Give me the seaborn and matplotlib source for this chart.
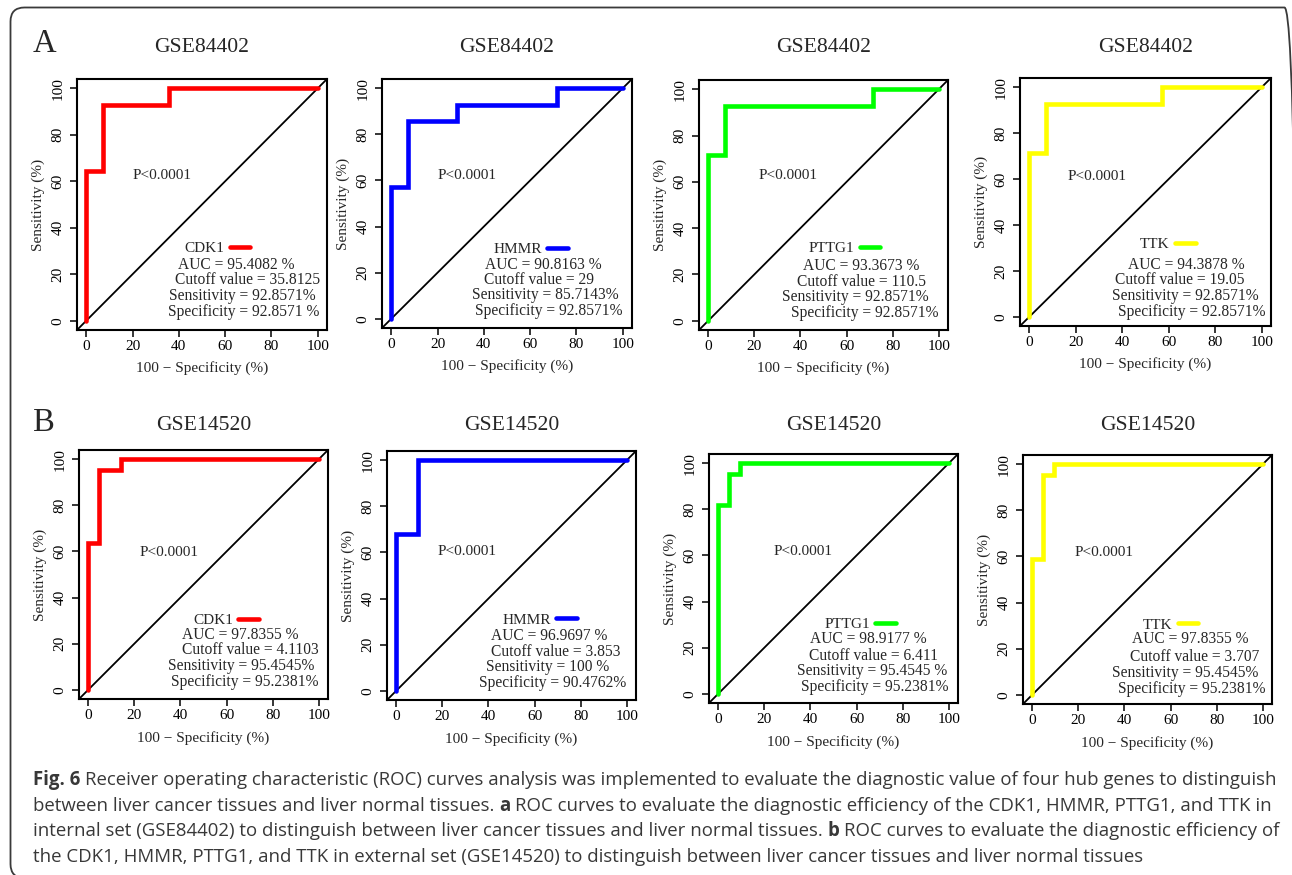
import matplotlib
matplotlib.use("Agg")
import matplotlib.pyplot as plt
from matplotlib.patches import FancyBboxPatch
from matplotlib.transforms import IdentityTransform
import seaborn as sns
import pandas as pd

# ------------------------------------------------------------------ data
genes = ["CDK1", "HMMR", "PTTG1", "TTK"]
gene_colors = ["#FF0000", "#0000FF", "#00FF00", "#FFFF00"]
datasets = ["GSE84402", "GSE14520"]
panel_letters = ["A", "B"]
p_text = "P<0.0001"

# ROC curves: x = 100 - specificity (%), y = sensitivity (%)
fpr_gse84402 = {
    "CDK1":  [0, 0, 7.14, 7.14, 35.71, 35.71, 100],
    "HMMR":  [0, 0, 7.14, 7.14, 28.57, 28.57, 71.43, 71.43, 100],
    "PTTG1": [0, 0, 7.14, 7.14, 71.43, 71.43, 100],
    "TTK":   [0, 0, 7.14, 7.14, 57.14, 57.14, 100],
}
tpr_gse84402 = {
    "CDK1":  [0, 64.29, 64.29, 92.86, 92.86, 100, 100],
    "HMMR":  [0, 57.14, 57.14, 85.71, 85.71, 92.86, 92.86, 100, 100],
    "PTTG1": [0, 71.43, 71.43, 92.86, 92.86, 100, 100],
    "TTK":   [0, 71.43, 71.43, 92.86, 92.86, 100, 100],
}
fpr_gse14520 = {
    "CDK1":  [0, 0, 4.76, 4.76, 14.29, 14.29, 100],
    "HMMR":  [0, 0, 9.52, 9.52, 100],
    "PTTG1": [0, 0, 4.76, 4.76, 9.52, 9.52, 100],
    "TTK":   [0, 0, 4.76, 4.76, 9.52, 9.52, 100],
}
tpr_gse14520 = {
    "CDK1":  [0, 63.64, 63.64, 95.45, 95.45, 100, 100],
    "HMMR":  [0, 68.18, 68.18, 100, 100],
    "PTTG1": [0, 81.82, 81.82, 95.45, 95.45, 100, 100],
    "TTK":   [0, 59.09, 59.09, 95.45, 95.45, 100, 100],
}

auc_gse84402 = ["95.4082 %", "90.8163 %", "93.3673 %", "94.3878 %"]
cutoff_gse84402 = ["35.8125", "29", "110.5", "19.05"]
sens_gse84402 = ["92.8571%", "85.7143%", "92.8571%", "92.8571%"]
spec_gse84402 = ["92.8571 %", "92.8571%", "92.8571%", "92.8571%"]

auc_gse14520 = ["97.8355 %", "96.9697 %", "98.9177 %", "97.8355 %"]
cutoff_gse14520 = ["4.1103", "3.853", "6.411", "3.707"]
sens_gse14520 = ["95.4545%", "100 %", "95.4545 %", "95.4545%"]
spec_gse14520 = ["95.2381%", "90.4762%", "95.2381%", "95.2381%"]

ticks = [0, 20, 40, 60, 80, 100]
xlabel = "100 \u2212 Specificity (%)"
ylabel = "Sensitivity (%)"

caption_lines = [
    [("Fig. 6", True),
     (" Receiver operating characteristic (ROC) curves analysis was implemented to evaluate the diagnostic value of four hub genes to distinguish", False)],
    [("between liver cancer tissues and liver normal tissues. ", False), ("a", True),
     (" ROC curves to evaluate the diagnostic efficiency of the CDK1, HMMR, PTTG1, and TTK in", False)],
    [("internal set (GSE84402) to distinguish between liver cancer tissues and liver normal tissues. ", False),
     ("b", True), (" ROC curves to evaluate the diagnostic efficiency of", False)],
    [("the CDK1, HMMR, PTTG1, and TTK in external set (GSE14520) to distinguish between liver cancer tissues and liver normal tissues", False)],
]

fpr_all = [fpr_gse84402, fpr_gse14520]
tpr_all = [tpr_gse84402, tpr_gse14520]
auc_all = [auc_gse84402, auc_gse14520]
cut_all = [cutoff_gse84402, cutoff_gse14520]
sens_all = [sens_gse84402, sens_gse14520]
spec_all = [spec_gse84402, spec_gse14520]

# ------------------------------------------------------------------ layout (pixels)
W, H = 1292, 875
axes_px = [  # left, top, right, bottom
    [(77, 79, 327, 330), (382, 79, 632, 328), (699, 80, 948, 330), (1020, 78, 1271, 326)],
    [(79, 450, 328, 699), (387, 451, 636, 700), (709, 454, 958, 703), (1023, 455, 1272, 704)],
]
title_baseline = [52, 430]
letter_baseline = [52, 431]
xlabel_offset = [38, 39]
ylabel_offset = 39

p_pos = [[(32.6, 62.4), (32.6, 62.1), (34.8, 62.7), (29.0, 61.1)],
         [(34.9, 59.7), (30.6, 60.5), (36.6, 61.7), (31.3, 61.8)]]
legend_pos = [[(42.4, 31.2), (44.2, 30.2), (43.6, 31.3), (47.7, 31.6)],
              [(45.5, 30.1), (46.1, 30.7), (46.0, 30.2), (48.0, 30.3)]]
stats_x = [[[64.6, 69.5, 67.4, 68.1], [65.8, 63.9, 66.4, 68.0], [66.3, 66.3, 63.9, 67.9], [67.4, 64.7, 67.3, 70.0]],
           [[66.0, 70.4, 66.2, 67.7], [66.4, 69.1, 65.8, 68.0], [64.9, 67.5, 66.8, 68.0], [68.5, 70.3, 66.3, 69.0]]]
stats_y = [[[24.0, 17.5, 10.8, 3.9], [23.4, 16.9, 10.2, 3.2], [23.8, 16.9, 10.4, 3.2], [22.6, 16.1, 9.2, 2.3]],
           [[23.6, 17.1, 10.2, 3.2], [23.8, 17.0, 10.2, 3.2], [23.7, 16.6, 9.7, 2.8], [24.0, 16.5, 9.6, 2.7]]]

# ------------------------------------------------------------------ style
sns.set_style("ticks")
plt.rcParams["font.family"] = ["Liberation Serif", "DejaVu Serif"]
plt.rcParams["axes.linewidth"] = 1.5
plt.rcParams["axes.edgecolor"] = "black"

fig = plt.figure(figsize=(W / 100, H / 100), dpi=100)
fig.patch.set_facecolor("white")

for r, ds in enumerate(datasets):
    for c, gene in enumerate(genes):
        l, t, rg, b = axes_px[r][c]
        ax = fig.add_axes([l / W, 1 - b / H, (rg - l) / W, (b - t) / H])
        ax.set_facecolor("white")
        ax.axline((0, 0), slope=1, color="black", lw=1.3, zorder=1)
        df = pd.DataFrame({"fpr": fpr_all[r][gene], "tpr": tpr_all[r][gene]})
        sns.lineplot(data=df, x="fpr", y="tpr", sort=False, estimator=None,
                     color=gene_colors[c], lw=3.3, ax=ax, label=gene, zorder=2,
                     solid_capstyle="round", solid_joinstyle="miter")
        ax.set_xlim(-4, 104)
        ax.set_ylim(-4, 104)
        ax.set_xticks(ticks)
        ax.set_yticks(ticks)
        for s in ax.spines.values():
            s.set_visible(True)
            s.set_linewidth(1.5)
            s.set_color("black")
        ax.tick_params(axis="both", direction="out", length=5, width=1.1,
                       labelsize=11, colors="black")
        ax.tick_params(axis="x", pad=2.5)
        ax.tick_params(axis="y", pad=4, labelrotation=90)
        for lab in ax.get_yticklabels():
            lab.set_va("center")
        hpx = b - t
        wpx = rg - l
        ax.set_xlabel(xlabel, fontsize=11)
        ax.xaxis.set_label_coords(0.5, -xlabel_offset[r] / hpx)
        ax.xaxis.label.set_va("center")
        ax.set_ylabel(ylabel, fontsize=11)
        ax.yaxis.set_label_coords(-ylabel_offset / wpx, 0.5)
        ax.yaxis.label.set_va("center")

        # title
        fig.text((l + rg) / 2 / W, 1 - title_baseline[r] / H, ds,
                 ha="center", va="baseline", fontsize=15.6)
        # P value
        px, py = p_pos[r][c]
        ax.text(px, py, p_text, ha="center", va="center", fontsize=11)
        # legend (text then line, as in R)
        lx, ly = legend_pos[r][c]
        ax.legend(loc="center left", bbox_to_anchor=(lx, ly), bbox_transform=ax.transData,
                  frameon=False, markerfirst=False, handlelength=1.35, handletextpad=0.35,
                  borderpad=0, borderaxespad=0, fontsize=11)
        stat_lines = ["AUC = " + auc_all[r][c],
                      "Cutoff value = " + cut_all[r][c],
                      "Sensitivity = " + sens_all[r][c],
                      "Specificity = " + spec_all[r][c]]
        for k, txt in enumerate(stat_lines):
            ax.text(stats_x[r][c][k], stats_y[r][c][k], txt, ha="center", va="center",
                    fontsize=11.2)

    fig.text(33 / W, 1 - letter_baseline[r] / H, panel_letters[r], ha="left",
             va="baseline", fontsize=23.5)

# ------------------------------------------------------------------ frame
frame = FancyBboxPatch((10.5, -3), 1288, 870.5, boxstyle="round,pad=0,rounding_size=14",
                       fill=False, ec="#3a3a3a", lw=1.3, transform=IdentityTransform())
fig.add_artist(frame)

# ------------------------------------------------------------------ caption
renderer = fig.canvas.get_renderer()
cap_family = ["Open Sans", "DejaVu Sans"]
cap_color = "#383838"


def text_width(s, size, bold):
    t = fig.text(0, 0, s, fontsize=size, fontweight="bold" if bold else "normal",
                 family=cap_family)
    w = t.get_window_extent(renderer).width
    t.remove()
    return w


def run_width(s, size, bold, space_w):
    stripped = s.strip(" ")
    lead = len(s) - len(s.lstrip(" "))
    trail = len(s) - len(s.rstrip(" "))
    w = text_width(stripped, size, bold) if stripped else 0
    return w, lead * space_w, trail * space_w


def space_width(size):
    return text_width("a a", size, False) - text_width("aa", size, False)


base = 12.0
sw = space_width(base)
tot = 0
for s, bflag in caption_lines[0]:
    w, a, z = run_width(s, base, bflag, sw)
    tot += w + a + z
cap_size = base * (1271 - 33) / tot
sw = space_width(cap_size)

cap_x0 = 33
cap_base0 = 785
cap_step = 25.7
for i, line in enumerate(caption_lines):
    x = cap_x0
    y = cap_base0 + i * cap_step
    for s, bflag in line:
        w, a, z = run_width(s, cap_size, bflag, sw)
        x += a
        fig.text(x / W, 1 - y / H, s.strip(" "), fontsize=cap_size,
                 fontweight="bold" if bflag else "normal", family=cap_family,
                 color=cap_color, ha="left", va="baseline")
        x += w + z

fig.savefig("out.png", dpi=100, facecolor="white")
